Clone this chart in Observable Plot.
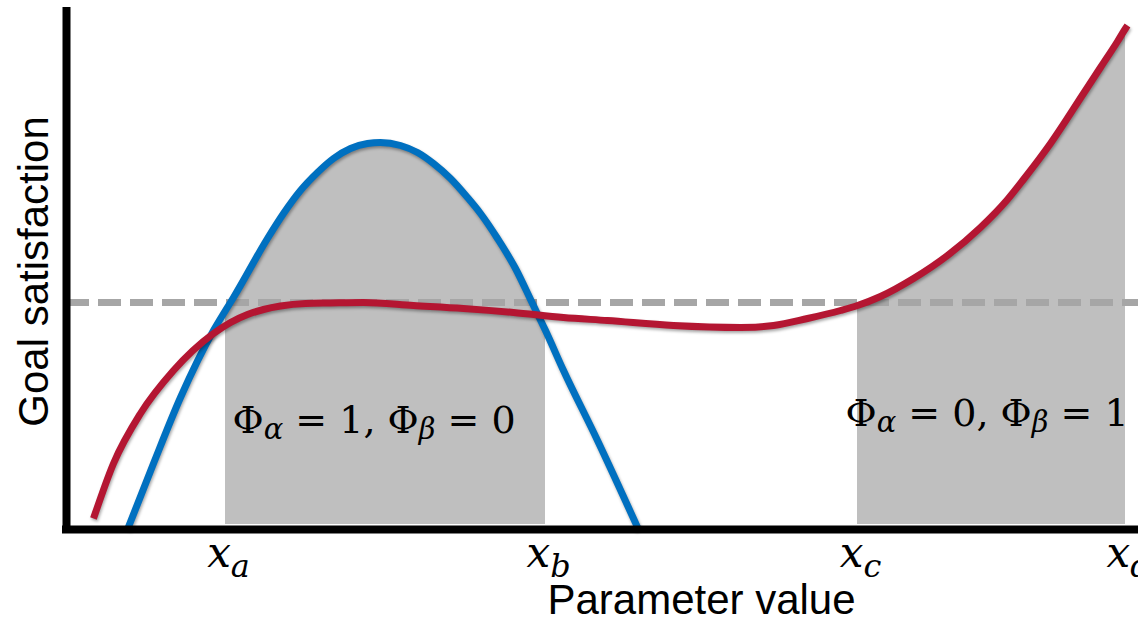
<!DOCTYPE html>
<html>
<head>
<meta charset="utf-8">
<script src="https://cdn.jsdelivr.net/npm/d3@7"></script>
<script src="https://cdn.jsdelivr.net/npm/@observablehq/plot@0.6"></script>
<style>
  html, body { margin: 0; padding: 0; background: #fff; }
  #chart svg { display: block; }
  #chart g[aria-label="line"] { filter: drop-shadow(1.5px 2.5px 1.8px rgba(0, 0, 0, 0.35)); }
  #chart g[font-family="DejaVu Serif"] text { white-space: pre; }
</style>
</head>
<body>
<div id="chart"></div>
<script>
// Goal satisfaction of goal α (blue) and goal β (red) across the parameter range.
const alphaX = [6.1, 8.7, 11.4, 14.7, 15.9, 16.7, 20.1, 21.7, 23.4, 25.1, 26.7, 28.4, 30.1, 31.4, 33.4, 35.1, 36.7, 38.4, 40.1, 41.4, 43.1, 44.9, 46.5, 47.9, 49.7, 53.1, 57.2];
const alphaY = [0, 13.2, 26.4, 39.8, 43.8, 46.4, 58.2, 63.2, 67.8, 71.4, 74.2, 76.2, 77.2, 77.4, 76.8, 75.4, 73.2, 70.2, 66.4, 63.2, 58.2, 52.2, 45.6, 39.8, 31.8, 17.8, 0];

const betaX = [2.7, 4.7, 7.4, 10.7, 14.7, 16.4, 18.1, 19.7, 21.4, 23.9, 26.4, 29.7, 34.7, 39.7, 44.7, 49.7, 54.1, 60.7, 67.4, 70.7, 74.1, 77.4, 79.1, 81.4, 84.7, 88.1, 91.4, 94.1, 95.7, 98.4, 101.7, 103.4, 105.1, 105.9, 106.1];
const betaY = [2.2, 13.2, 23.2, 31.8, 39.2, 41.4, 43.0, 44.0, 44.7, 45.2, 45.3, 45.4, 44.8, 44.2, 43.4, 42.4, 41.8, 40.8, 40.4, 40.8, 42.2, 43.8, 44.8, 46.6, 50.2, 54.8, 60.4, 66.0, 70.0, 77.2, 87.2, 92.4, 97.6, 100.2, 100.8];

// Satisfaction threshold (dashed line)
const threshold = 45.4;

// Interval bounds on the parameter axis
const boundNames = ["x_a", "x_b", "x_c", "x_d"];
const boundX = [15.9, 47.9, 79.1, 105.9];

// Indicator annotations for the two shaded intervals
const regionText = ["Φ_α = 1, Φ_β = 0", "Φ_α = 0, Φ_β = 1"];
const regionTextX = [16.6, 77.9];
const regionTextY = [19.4, 20.8];

const alpha = alphaX.map((x, i) => ({x, y: alphaY[i]}));
const beta = betaX.map((x, i) => ({x, y: betaY[i]}));
const alphaBand = alpha.filter(d => d.x >= boundX[0] && d.x <= boundX[1]);
const betaBand = beta.filter(d => d.x >= boundX[2] && d.x <= boundX[3]);
const bounds = boundNames.map((name, i) => ({name, x: boundX[i]}));
const regions = regionText.map((text, i) => ({text, x: regionTextX[i], y: regionTextY[i]}));

const blue = "#0070c0";
const red = "#b41632";
const shade = "#bfbfbf";
const mathFont = "DejaVu Serif";
const curve = "monotone-x";

const chart = Plot.plot({
  width: 1138,
  height: 621,
  marginLeft: 66,
  marginRight: 0,
  marginTop: 7,
  marginBottom: 92,
  x: {domain: [0, 107.2], axis: null},
  y: {domain: [0, 104.4], axis: null},
  marks: [
    Plot.areaY(alphaBand, {x: "x", y1: 1, y2: "y", fill: shade, curve}),
    Plot.areaY(betaBand, {x: "x", y1: 1, y2: "y", fill: shade, curve}),
    Plot.ruleY([threshold], {x1: 0, x2: 107.2, stroke: "#a6a6a6", strokeWidth: 7, strokeDasharray: "23,9"}),
    Plot.line(alpha, {x: "x", y: "y", stroke: blue, strokeWidth: 7, strokeLinecap: "butt", curve}),
    Plot.line(beta, {x: "x", y: "y", stroke: red, strokeWidth: 7, strokeLinecap: "butt", curve}),
    Plot.ruleX([0], {y1: 0, y2: 104.4, stroke: "#000", strokeWidth: 8}),
    Plot.ruleY([0], {x1: -0.4, x2: 107.2, stroke: "#000", strokeWidth: 8}),
    Plot.text(bounds, {x: "x", y: 0, text: "name", dx: 3, dy: 37, lineAnchor: "bottom", textAnchor: "middle",
      fontFamily: mathFont, fontSize: 42}),
    Plot.text(regions, {x: "x", y: "y", text: "text", lineAnchor: "bottom", textAnchor: "start",
      fontFamily: mathFont, fontSize: 38}),
    Plot.text(["Goal satisfaction"], {frameAnchor: "left", rotate: -90, dx: -19, dy: 3, lineAnchor: "bottom", textAnchor: "middle",
      fontFamily: "Liberation Sans, Arial, sans-serif", fontSize: 42}),
    Plot.text(["Parameter value"], {frameAnchor: "bottom", dx: 99, dy: 84, lineAnchor: "bottom", textAnchor: "middle",
      fontFamily: "Liberation Sans, Arial, sans-serif", fontSize: 42})
  ]
});

// Typeset "_c" as a subscript, italicising Latin and lowercase Greek letters.
function typesetMath(svg) {
  const ns = "http://www.w3.org/2000/svg";
  svg.querySelectorAll(`g[font-family="${mathFont}"] text`).forEach(node => {
    const size = parseFloat(node.parentNode.getAttribute("font-size")) || 40;
    const shift = size >= 40 ? 0.26 * size : 0.16 * size;
    const src = node.textContent;
    node.textContent = "";
    let lowered = false;
    for (let i = 0; i < src.length; i++) {
      let ch = src[i];
      let sub = false;
      if (ch === "_") { sub = true; ch = src[++i]; }
      const t = document.createElementNS(ns, "tspan");
      t.textContent = ch;
      if (/[a-zα-ω]/.test(ch)) t.setAttribute("font-style", "italic");
      if (sub) {
        t.setAttribute("font-size", (0.76 * size) + "px");
        if (!lowered) { t.setAttribute("dy", shift); lowered = true; }
      } else if (lowered) {
        t.setAttribute("dy", -shift);
        lowered = false;
      }
      node.appendChild(t);
    }
  });
}

typesetMath(chart);
document.getElementById("chart").appendChild(chart);
</script>
</body>
</html>
